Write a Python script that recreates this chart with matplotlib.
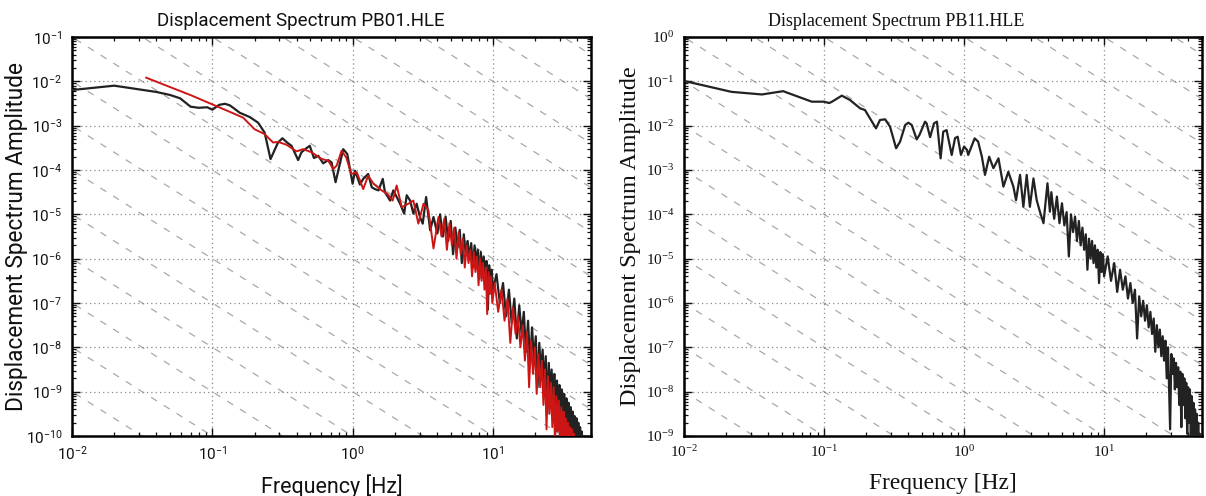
import numpy as np
import matplotlib
matplotlib.use("Agg")
import matplotlib.pyplot as plt
from matplotlib.ticker import LogLocator, NullFormatter

# ---------------- data (frequency [Hz], log10 displacement amplitude) ----------------
pb01_black_f = [0.010, 0.020, 0.030, 0.040, 0.050, 0.059, 0.070, 0.080, 0.092, 0.100,
                0.112, 0.123, 0.133, 0.141, 0.157, 0.185, 0.212, 0.236, 0.260, 0.294,
                0.316, 0.341, 0.367, 0.409, 0.432, 0.469, 0.495, 0.530, 0.569, 0.617,
                0.670, 0.708, 0.756, 0.800, 0.857, 0.916, 0.957, 1.000, 1.04, 1.127,
                1.19, 1.29, 1.37, 1.44, 1.53, 1.64, 1.70, 1.85, 1.95, 2.18,
                2.33, 2.43, 2.57, 2.71, 2.86, 3.02, 3.16, 3.34, 3.57, 3.77, 4.02,
                4.2, 4.4, 4.6, 4.8, 5.0, 5.2, 5.4, 5.6, 5.8, 6.0, 6.2, 6.4, 6.6, 6.8, 7.0,
                7.2, 7.4, 7.6, 7.8, 8.0, 8.2, 8.4, 8.6, 8.8, 9.0, 9.2, 9.4, 9.6, 9.8, 10.0,
                10.6, 11.2, 11.8, 12.4, 13.0, 13.6, 14.2, 14.8, 15.4, 16.0, 16.6, 17.2,
                17.8, 18.4, 19.0, 19.6, 20.2, 20.8, 21.4, 22.0, 22.6, 23.2, 23.8, 24.4,
                25.0, 25.6, 26.2, 26.8, 27.4, 28.0, 28.6, 29.2, 29.8, 30.4, 31.0, 31.6,
                32.2, 32.8, 33.4, 34.0, 34.6, 35.2, 35.8, 36.4, 37.0, 37.6, 38.2, 38.8,
                39.4, 40.0, 40.6, 41.2, 41.8, 42.4, 43.0, 43.6, 44.2, 44.8, 45.4, 46.0,
                46.6, 47.2, 47.8]
pb01_black_log = [-2.196, -2.098, -2.18, -2.24, -2.308, -2.383, -2.572, -2.597, -2.585, -2.64,
                  -2.53, -2.507, -2.54, -2.597, -2.709, -2.806, -2.933, -3.157, -3.754, -3.38,
                  -3.284, -3.38, -3.455, -3.776, -3.60, -3.507, -3.455, -3.73, -3.68, -3.85,
                  -3.776, -3.828, -4.276, -3.94, -3.53, -3.64, -3.978, -4.31, -4.015, -4.328,
                  -4.2, -4.09, -4.39, -4.43, -4.46, -4.2, -4.5, -4.69, -4.46, -4.76,
                  -4.985, -4.57, -4.69, -4.985, -4.76, -5.06, -5.21, -4.61, -5.36, -5.06, -5.43,
                  -5.0, -5.5, -5.05, -5.6, -5.15, -5.9, -5.3, -5.75, -5.35, -6.1, -5.45, -5.9,
                  -5.6, -6.0, -5.65, -6.2, -5.7, -6.1, -5.8, -6.45, -5.85, -6.3, -5.95, -6.4,
                  -6.05, -7.15, -6.15, -6.55, -6.25, -6.7,
                  -6.35, -7.0, -6.55, -7.3, -6.7, -7.45, -6.9, -7.8, -7.05, -7.7, -7.2, -8.1,
                  -7.4, -8.4, -7.55, -8.3, -7.75, -8.9, -7.9, -8.6, -8.05, -8.9, -8.2, -9.5,
                  -8.35, -9.1, -8.5, -9.3, -8.6, -9.9, -8.75, -9.6, -8.85, -9.8, -8.95, -9.9,
                  -9.05, -10.0, -9.15, -10.2, -9.25, -10.1, -9.35, -10.3, -9.45, -10.3, -9.55, -10.4,
                  -9.6, -10.5, -9.7, -10.5, -9.8, -10.6, -9.9, -10.6, -10.0, -10.7, -10.1, -10.7,
                  -10.2, -10.8, -10.3]

pb01_red_f = [0.0338, 0.0697, 0.100, 0.133, 0.166, 0.200, 0.236, 0.271, 0.294, 0.338,
              0.398, 0.444, 0.510, 0.600, 0.670, 0.728, 0.770, 0.834, 0.900, 0.980,
              1.07, 1.19, 1.29, 1.41, 1.61, 1.77, 1.93, 2.06, 2.24, 2.5,
              2.71, 2.94, 3.2, 3.47, 3.77, 4.09,
              4.3, 4.5, 4.7, 4.9, 5.1, 5.3, 5.5, 5.7, 5.9, 6.1, 6.3, 6.5, 6.7, 6.9, 7.1,
              7.3, 7.5, 7.7, 7.9, 8.1, 8.3, 8.5, 8.7, 8.9, 9.1, 9.3, 9.5, 9.7, 9.9,
              10.3, 10.9, 11.5, 12.1, 12.7, 13.3, 13.9, 14.5, 15.1, 15.7, 16.3, 16.9,
              17.5, 18.1, 18.7, 19.3, 19.9, 20.5, 21.1, 21.7, 22.3, 22.9, 23.5, 24.1,
              24.7, 25.3, 25.9, 26.5, 27.1, 27.7, 28.3, 28.9, 29.5, 30.1, 30.7, 31.3,
              31.9, 32.5, 33.1, 33.7, 34.3, 34.9, 35.5, 36.1, 36.7, 37.3, 37.9, 38.5,
              39.1, 39.7, 40.3]
pb01_red_log = [-1.918, -2.308, -2.52, -2.687, -2.82, -3.08, -3.19, -3.38, -3.366, -3.43,
                -3.58, -3.53, -3.60, -3.75, -3.79, -3.98, -3.90, -3.567, -3.716, -4.09,
                -4.05, -4.43, -4.13, -4.31, -4.46, -4.54, -4.69, -4.35, -4.84, -4.76,
                -4.69, -5.21, -4.76, -4.91, -5.77, -5.06,
                -5.5, -5.1, -5.8, -5.2, -5.7, -5.3, -6.0, -5.4, -5.9, -5.55, -6.2, -5.7,
                -6.1, -5.8, -6.4, -5.85, -6.3, -5.95, -6.6, -6.0, -6.5, -6.1, -6.7, -6.2,
                -7.25, -6.3, -6.8, -6.4, -7.0,
                -6.55, -7.2, -6.7, -7.4, -6.9, -7.9, -7.1, -7.7, -7.3, -8.0, -7.5, -8.3,
                -7.65, -8.9, -7.85, -8.6, -8.0, -9.05, -8.15, -8.9, -8.3, -9.3, -8.5, -9.85,
                -8.65, -9.5, -8.8, -9.8, -8.9, -10.2, -9.1, -9.9, -9.2, -10.3, -9.35, -10.1,
                -9.45, -10.4, -9.6, -10.3, -9.7, -10.5, -9.8, -10.4, -9.85, -10.6, -9.95, -10.5,
                -10.05, -10.7, -10.15]

pb11_black_f = [0.0103, 0.0218, 0.036, 0.051, 0.0636, 0.0818, 0.100, 0.109, 0.114, 0.129,
                0.134, 0.153, 0.181, 0.196, 0.213, 0.235, 0.251, 0.273, 0.296, 0.327,
                0.349, 0.38, 0.40, 0.423, 0.459, 0.48, 0.526, 0.54, 0.572, 0.61,
                0.64, 0.68, 0.71, 0.75, 0.816, 0.862, 0.90, 0.95, 1.00, 1.05,
                1.07, 1.19, 1.26, 1.34, 1.41, 1.51, 1.62, 1.76, 1.91, 2.07,
                2.25, 2.35, 2.51, 2.65, 2.8, 2.95, 3.13, 3.3, 3.45, 3.69, 3.94, 4.1,
                4.2, 4.4, 4.6, 4.8, 5.0, 5.2, 5.4, 5.6, 5.8, 6.0, 6.2, 6.4, 6.6, 6.8, 7.0,
                7.2, 7.4, 7.6, 7.8, 8.0, 8.2, 8.4, 8.6, 8.8, 9.0, 9.2, 9.4, 9.6, 9.8, 10.0,
                10.6, 11.2, 11.8, 12.4, 13.0, 13.6, 14.2, 14.8, 15.4, 16.0, 16.6, 17.2,
                17.8, 18.4, 19.0, 19.6, 20.2, 20.8, 21.4, 22.0, 22.6, 23.2, 23.8, 24.4,
                25.0, 25.6, 26.2, 26.8, 27.4, 28.0, 28.6, 29.2, 29.6, 30.2, 30.8, 31.4,
                32.0, 32.6, 33.2, 33.8, 34.4, 35.0, 35.6, 36.2, 36.8, 37.4, 38.0, 38.6,
                39.2, 39.8, 40.4, 41.0, 41.6, 42.2, 42.8, 43.4, 44.0, 44.6, 45.2, 45.8,
                46.4, 47.0, 47.6, 48.2, 48.8, 49.4, 50.0]
pb11_black_log = [-1.0, -1.237, -1.296, -1.222, -1.333, -1.459, -1.459, -1.49, -1.459, -1.356,
                  -1.323, -1.42, -1.609, -1.647, -1.835, -2.06, -1.872, -1.857, -2.023, -2.51,
                  -2.361, -1.985, -1.932, -1.985, -2.31, -2.21, -1.91, -1.947, -2.26, -1.947,
                  -1.91, -2.737, -2.135, -2.1, -2.66, -2.28, -2.25, -2.66, -2.47, -2.55,
                  -2.66, -2.286, -2.36, -2.7, -3.11, -2.7, -2.96, -2.737, -3.376, -3.04,
                  -3.376, -3.68, -3.11, -3.83, -3.11, -3.83, -3.19, -3.68, -3.9, -4.2, -3.3, -3.94,
                  -3.5, -4.1, -3.6, -4.2, -3.75, -4.25, -3.95, -4.95, -4.0, -4.4, -4.05, -4.6,
                  -4.15, -4.7, -4.3, -4.8, -4.45, -5.25, -4.55, -5.0, -4.6, -5.1, -4.7, -5.2,
                  -4.8, -5.55, -4.85, -5.3, -4.9, -5.4,
                  -4.95, -5.5, -5.1, -5.75, -5.25, -5.7, -5.4, -5.9, -5.55, -6.0, -5.7, -6.8,
                  -5.85, -6.3, -5.95, -6.4, -6.05, -6.55, -6.2, -6.7, -6.35, -7.1, -6.5, -7.0,
                  -6.6, -7.2, -6.75, -7.3, -6.85, -7.7, -7.0, -8.1, -8.85, -7.15, -7.6, -7.25,
                  -7.95, -7.35, -7.9, -7.45, -8.3, -7.55, -8.8, -7.6, -8.3, -7.7, -8.6, -7.8,
                  -8.95, -7.9, -8.7, -7.95, -9.0, -8.1, -9.2, -8.25, -9.4, -8.4, -9.5, -8.5,
                  -9.6, -8.7, -9.7, -8.95, -9.8, -9.3, -9.9]

titles = ["Displacement Spectrum PB01.HLE", "Displacement Spectrum PB11.HLE"]
x_label = "Frequency [Hz]"
y_label = "Displacement Spectrum Amplitude"
x_limits = (1e-2, 50)
y_limits_left = (1e-10, 1e-1)
y_limits_right = (1e-9, 1e0)
ref_line_exponents = list(range(-17, 5))   # reference lines A = 10^k * f^-2

# ---------------- figure ----------------
fig = plt.figure(figsize=(12.06, 4.96), dpi=100)
ax1 = fig.add_axes([72 / 1206, 60 / 496, 519 / 1206, 399 / 496])
ax2 = fig.add_axes([684 / 1206, 60 / 496, 518 / 1206, 399 / 496])


def style(ax, family, ylim, title, title_x, title_size, xlabel_size, ylabel_size, ylab_x):
    ax.set_xscale("log")
    ax.set_yscale("log")
    ax.set_xlim(*x_limits)
    ax.set_ylim(*ylim)
    fref = np.array([1e-3, 1e3])
    for k in ref_line_exponents:
        ax.plot(fref, 10.0 ** k / fref ** 2, color="#a8a8a8", lw=0.9,
                linestyle=(0, (5.5, 6.5)), zorder=1)
    ax.grid(True, which="major", linestyle=(0, (1, 2.5)), color="#8a8a8a", lw=0.9, zorder=1)
    ax.xaxis.set_major_locator(LogLocator(base=10, numticks=20))
    ax.yaxis.set_major_locator(LogLocator(base=10, numticks=20))
    ax.xaxis.set_minor_locator(LogLocator(base=10, subs=np.arange(2, 10), numticks=50))
    ax.yaxis.set_minor_locator(LogLocator(base=10, subs=np.arange(2, 10), numticks=50))
    ax.xaxis.set_minor_formatter(NullFormatter())
    ax.yaxis.set_minor_formatter(NullFormatter())
    ax.tick_params(which="both", direction="in", top=True, right=True,
                   labelsize=11, labelfontfamily=family, colors="#111111")
    ax.tick_params(which="major", length=6, width=1.0)
    ax.tick_params(axis="y", which="major", pad=7)
    ax.tick_params(axis="x", which="major", pad=6)
    ax.tick_params(which="minor", length=3, width=0.9)
    for sp in ax.spines.values():
        sp.set_linewidth(1.8)
    ax.set_title(title, fontsize=title_size, family=family, pad=8, color="#111111", x=title_x)
    ax.set_xlabel(x_label, fontsize=xlabel_size, family=family, labelpad=9, color="#111111")
    ax.set_ylabel(y_label, fontsize=ylabel_size, family=family, color="#111111")
    ax.yaxis.set_label_coords(ylab_x, 0.5)


style(ax1, "Roboto", y_limits_left, titles[0], 0.44, 13.5, 15.5, 16.3, -0.085)
style(ax2, "Liberation Serif", y_limits_right, titles[1], 0.41, 13, 16.8, 17.4, -0.083)

ax1.plot(pb01_black_f, 10.0 ** np.array(pb01_black_log), color="#222222", lw=1.6, zorder=3)
ax1.plot(pb01_red_f, 10.0 ** np.array(pb01_red_log), color="#cc1616", lw=1.4, zorder=4)
ax2.plot(pb11_black_f, 10.0 ** np.array(pb11_black_log), color="#222222", lw=1.6, zorder=3)

fig.savefig("out.png", dpi=100)
